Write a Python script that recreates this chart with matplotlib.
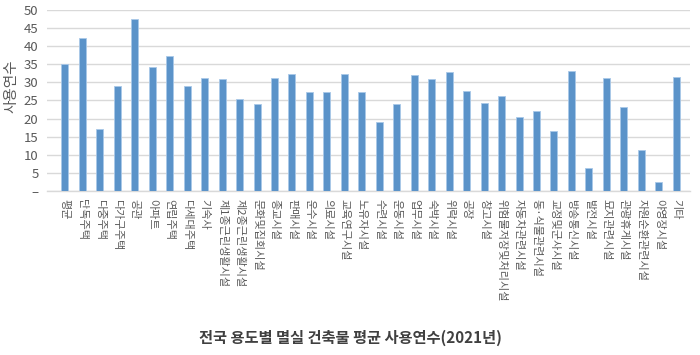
import matplotlib
matplotlib.use('Agg')
import matplotlib.pyplot as plt

plt.rcParams['font.family'] = ['Noto Sans CJK KR', 'DejaVu Sans']

# 용도별 평균 사용연수 (2021년)
categories = ['평균', '단독주택', '다중주택', '다가구주택', '공관', '아파트', '연립주택', '다세대주택',
              '기숙사', '제1종근린생활시설', '제2종근린생활시설', '문화및집회시설', '종교시설', '판매시설',
              '운수시설', '의료시설', '교육연구시설', '노유자시설', '수련시설', '운동시설', '업무시설',
              '숙박시설', '위락시설', '공장', '창고시설', '위험물저장및처리시설', '자동차관련시설',
              '동·식물관련시설', '교정및군사시설', '방송통신시설', '발전시설', '묘지관련시설',
              '관광휴게시설', '자원순환관련시설', '야영장시설', '기타']
values = [35.1, 42.2, 17.1, 28.9, 47.5, 34.3, 37.3, 28.9,
          31.1, 30.8, 25.5, 24.0, 31.2, 32.4,
          27.4, 27.4, 32.4, 27.4, 19.1, 24.0, 31.9,
          30.8, 32.8, 27.7, 24.3, 26.2, 20.5,
          22.1, 16.7, 33.1, 6.4, 31.2,
          23.2, 11.3, 2.6, 31.6]
yticks = [0, 5, 10, 15, 20, 25, 30, 35, 40, 45, 50]
ytick_labels = ['–', '5', '10', '15', '20', '25', '30', '35', '40', '45', '50']

BAR_COLOR = '#5B93C9'
GRID_COLOR = '#D9D9D9'
TEXT_COLOR = '#595959'

fig = plt.figure(figsize=(7, 3.55), dpi=100)
ax = fig.add_axes([0.067, 0.462, 0.919, 0.51])

x = range(len(categories))
ax.bar(x, values, width=0.4, color=BAR_COLOR, edgecolor='#A9C8E8', linewidth=0.6, zorder=3)

ax.set_ylim(0, 50)
ax.set_xlim(-1.03, len(categories) - 0.2)
ax.set_yticks(yticks)
ax.set_yticklabels(ytick_labels, fontsize=9.5, color=TEXT_COLOR)
ax.yaxis.grid(True, color=GRID_COLOR, linewidth=1, zorder=0)
ax.set_axisbelow(True)

ax.set_xticks(list(x))
ax.set_xticklabels(categories, rotation=270, fontsize=8, color=TEXT_COLOR, ha='center', va='top')
ax.tick_params(axis='y', length=0, pad=6)
ax.tick_params(axis='x', length=0, pad=6)

for s in ['top', 'right', 'left']:
    ax.spines[s].set_visible(False)
ax.spines['bottom'].set_color(GRID_COLOR)
ax.spines['bottom'].set_linewidth(1)

ax.set_ylabel('사용연수', fontsize=10.5, color=TEXT_COLOR)
ax.yaxis.set_label_coords(-0.044, 0.58)

fig.text(0.5, 0.048, '전국 용도별 멸실 건축물 평균 사용연수(2021년)', ha='center', va='center',
         fontsize=11, fontweight='bold', color='#404040')

fig.savefig('out.png', dpi=100)
